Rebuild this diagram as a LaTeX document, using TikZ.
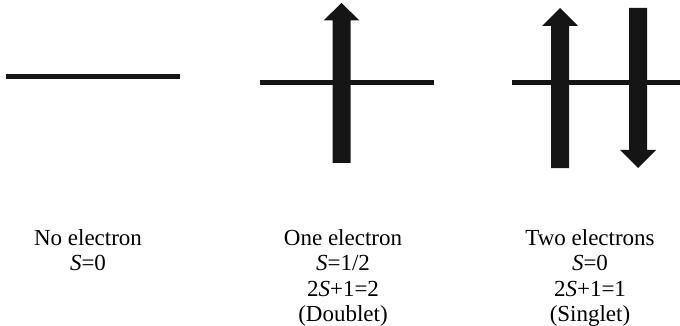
\documentclass[tikz,border=0pt]{standalone}
\usepackage{fontspec}
\setmainfont{Liberation Serif}
\begin{document}
\begin{tikzpicture}[x=1pt,y=-1pt,
  level/.style={draw=ink,line width=4.7pt},
  spin/.style={fill=ink,draw=none},
  lbl/.style={anchor=base,inner sep=0pt,font=\fontsize{23}{28}\selectfont}]
\definecolor{ink}{HTML}{151515}
\useasboundingbox (0,0) rectangle (680,326);
% energy levels
\coordinate (l1a) at (6,76.7);   \coordinate (l1b) at (180,76.7);
\coordinate (l2a) at (260,82.5); \coordinate (l2b) at (434,82.5);
\coordinate (l3a) at (512,82.5); \coordinate (l3b) at (680,82.5);
\draw[level] (l1a) -- (l1b);
\draw[level] (l2a) -- (l2b);
\draw[level] (l3a) -- (l3b);
% spin arrows
\fill[spin] (332.5,163) -- (350.5,163) -- (350.5,20.5) -- (359.5,20.5) -- (341.5,3) -- (323.5,20.5) -- (332.5,20.5) -- cycle;
\fill[spin] (551,168) -- (569,168) -- (569,26) -- (578,26) -- (560,8) -- (542,26) -- (551,26) -- cycle;
\fill[spin] (629,8) -- (647,8) -- (647,150) -- (656,150) -- (638,168) -- (620,150) -- (629,150) -- cycle;
% labels
\node[lbl] (a1) at (88,245) {No electron};
\node[lbl] (a2) at (88,270.5) {\textit{S}=0};
\node[lbl] (b1) at (343,245) {One electron};
\node[lbl] (b2) at (343,270.5) {\textit{S}=1/2};
\node[lbl] (b3) at (343,296) {2\textit{S}+1=2};
\node[lbl] (b4) at (343,321) {(Doublet)};
\node[lbl] (c1) at (590,245) {Two electrons};
\node[lbl] (c2) at (590,270.5) {\textit{S}=0};
\node[lbl] (c3) at (590,296) {2\textit{S}+1=1};
\node[lbl] (c4) at (590,321) {(Singlet)};
\end{tikzpicture}
\end{document}
